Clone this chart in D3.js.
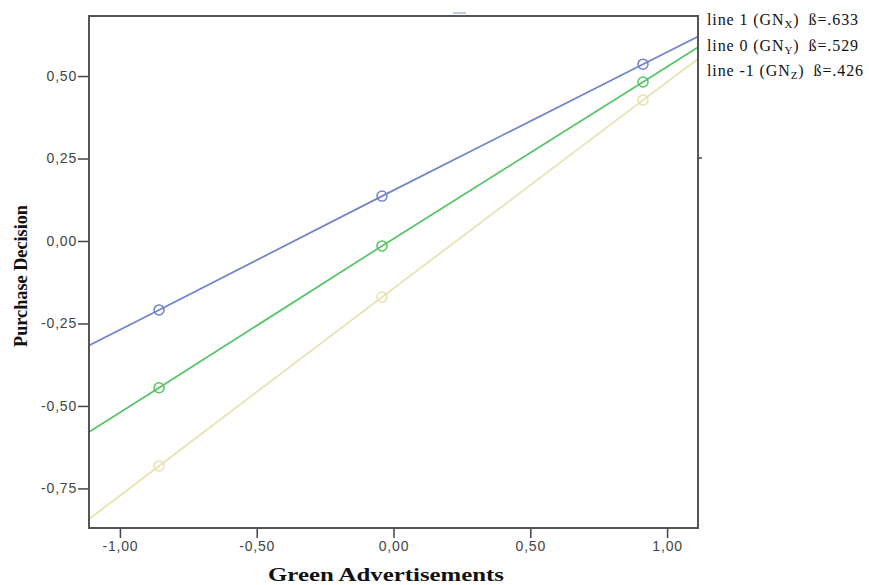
<!DOCTYPE html>
<html>
<head>
<meta charset="utf-8">
<script src="https://cdn.jsdelivr.net/npm/d3@7"></script>
<style>
  body { margin: 0; background: #fff; }
  .tick text { font-family: "Liberation Sans", Arial, sans-serif; font-size: 14px; letter-spacing: 0.8px; fill: #444; }
</style>
</head>
<body>
<div id="chart"></div>
<script>
// values
var xTicks = [-1, -0.5, 0, 0.5, 1];
var yTicks = [-0.75, -0.5, -0.25, 0, 0.25, 0.5];
var xPoints = [-0.857, -0.042, 0.912];
var xEdges = [-1.113, 1.113];
var seriesNames = ["line 1 (GN", "line 0 (GN", "line -1 (GN"];
var seriesSubs = ["X", "Y", "Z"];
var seriesBetas = ["ß=.633", "ß=.529", "ß=.426"];
var seriesPoints = [
  [-0.209, 0.136, 0.536],
  [-0.445, -0.015, 0.482],
  [-0.682, -0.170, 0.427]
];
var seriesEdges = [
  [-0.317, 0.620],
  [-0.579, 0.587],
  [-0.843, 0.552]
];
var colors = ["#7282cc", "#55c464", "#e6e1ad"];

var W = 869, H = 585;
var pLeft = 89, pRight = 698, pTop = 16, pBottom = 528;

var svg = d3.select("#chart").append("svg")
    .attr("width", W)
    .attr("height", H);

var x = d3.scaleLinear().domain(xEdges).range([pLeft, pRight]);
var y = d3.scaleLinear().domain([-0.870, 0.682]).range([pBottom, pTop]);

var fmt = function(d) { return d.toFixed(2).replace(".", ","); };

svg.append("clipPath").attr("id", "clip")
  .append("rect")
    .attr("x", pLeft).attr("y", pTop)
    .attr("width", pRight - pLeft).attr("height", pBottom - pTop);

var plot = svg.append("g").attr("clip-path", "url(#clip)");

seriesPoints.forEach(function(pts, i) {
    var linePts = [[xEdges[0], seriesEdges[i][0]]]
        .concat(xPoints.map(function(xv, j) { return [xv, pts[j]]; }))
        .concat([[xEdges[1], seriesEdges[i][1]]]);

    plot.append("path")
        .datum(linePts)
        .attr("fill", "none")
        .attr("stroke", colors[i])
        .attr("stroke-width", 1.7)
        .attr("d", d3.line()
            .x(function(d) { return x(d[0]); })
            .y(function(d) { return y(d[1]); }));

    plot.selectAll(".pt" + i)
        .data(pts)
        .enter()
        .append("circle")
        .attr("class", "pt" + i)
        .attr("cx", function(d, j) { return x(xPoints[j]); })
        .attr("cy", function(d) { return y(d); })
        .attr("r", 5)
        .attr("fill", "none")
        .attr("stroke", colors[i])
        .attr("stroke-width", 1.5);
});

// axes
var xAxis = svg.append("g")
    .attr("transform", "translate(0," + pBottom + ")")
    .call(d3.axisBottom(x).tickValues(xTicks).tickFormat(fmt).tickSize(10).tickPadding(3));
var yAxis = svg.append("g")
    .attr("transform", "translate(" + pLeft + ",0)")
    .call(d3.axisLeft(y).tickValues(yTicks).tickFormat(fmt).tickSize(11).tickPadding(1));
[xAxis, yAxis].forEach(function(a) {
    a.select(".domain").remove();
    a.selectAll(".tick line").attr("stroke", "#444").attr("stroke-width", 1.5);
});

// frame
svg.append("rect")
    .attr("x", pLeft).attr("y", pTop)
    .attr("width", pRight - pLeft).attr("height", pBottom - pTop)
    .attr("fill", "none")
    .attr("stroke", "#555")
    .attr("stroke-width", 2);

// small stray marks
svg.append("line")
    .attr("x1", 453).attr("x2", 466).attr("y1", 13).attr("y2", 13)
    .attr("stroke", "#a9b8d0").attr("stroke-width", 1.5);
svg.append("line")
    .attr("x1", 698).attr("x2", 702).attr("y1", 158).attr("y2", 158)
    .attr("stroke", "#444").attr("stroke-width", 1.5);

// axis titles
svg.append("text")
    .attr("x", 268).attr("y", 581)
    .attr("textLength", 236)
    .attr("lengthAdjust", "spacingAndGlyphs")
    .attr("font-family", "'Liberation Serif', 'Times New Roman', serif")
    .attr("font-weight", "bold")
    .attr("font-size", "18px")
    .attr("fill", "#111")
    .text("Green Advertisements");

svg.append("text")
    .attr("transform", "translate(27,347) rotate(-90)")
    .attr("textLength", 142)
    .attr("lengthAdjust", "spacingAndGlyphs")
    .attr("font-family", "'Liberation Serif', 'Times New Roman', serif")
    .attr("font-weight", "bold")
    .attr("font-size", "18px")
    .attr("fill", "#111")
    .text("Purchase Decision");

// legend
var legend = svg.append("g")
    .attr("font-family", "'Liberation Serif', 'Times New Roman', serif")
    .attr("font-size", "16px")
    .attr("letter-spacing", "0.9px")
    .attr("fill", "#111");
seriesNames.forEach(function(name, i) {
    var t = legend.append("text")
        .attr("x", 707)
        .attr("y", 25 + i * 25.5);
    t.append("tspan").text(name);
    t.append("tspan").attr("font-size", "11px").attr("dy", 3).text(seriesSubs[i]);
    t.append("tspan").attr("dy", -3).text(")\u00a0\u2009" + seriesBetas[i]);
});
</script>
</body>
</html>
